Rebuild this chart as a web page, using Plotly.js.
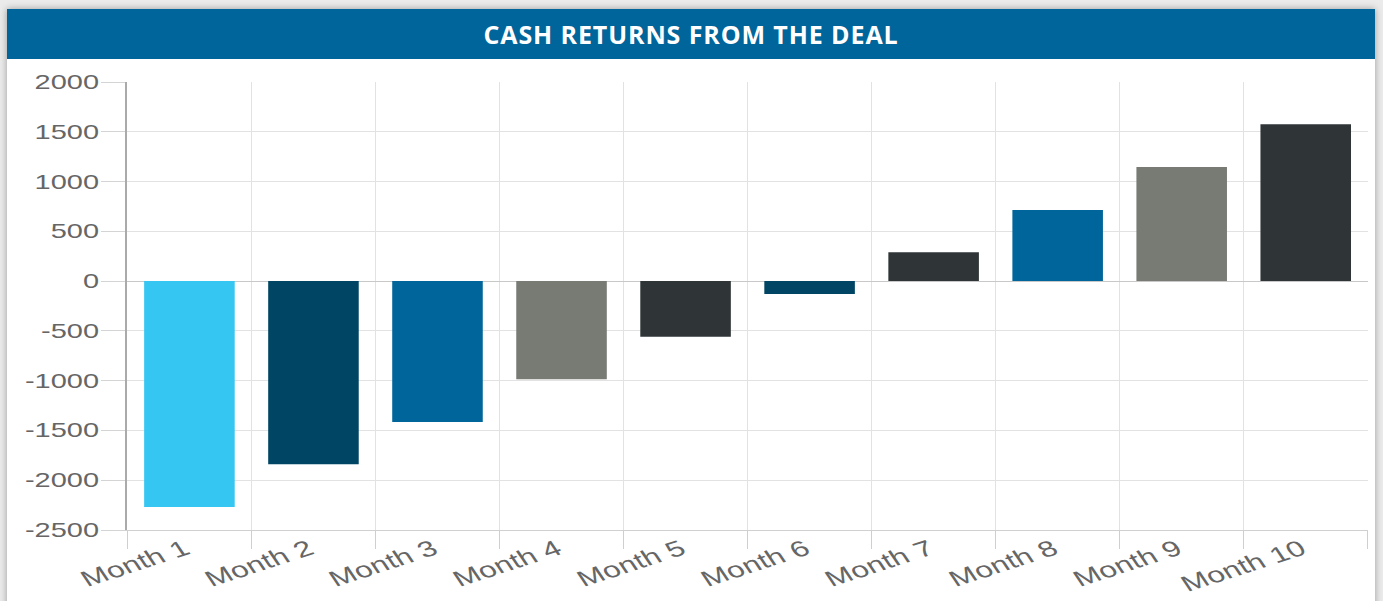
<!DOCTYPE html>
<html><head><meta charset="utf-8">
<script src="https://cdn.plot.ly/plotly-3.0.1.min.js"></script>
<style>
html,body{margin:0;padding:0;background:#ebebeb;width:1383px;height:601px;overflow:hidden;}
#card{position:absolute;left:7px;top:9px;width:1368px;height:640px;background:#fff;box-shadow:0 0 7px rgba(0,0,0,0.35);overflow:hidden;}
#head{height:50px;background:#00659b;color:#fff;font-family:'Open Sans',sans-serif;font-weight:700;font-size:25px;letter-spacing:0.9px;text-align:center;line-height:50px;}
#chart{position:absolute;left:0;top:50px;width:943px;height:542px;transform-origin:0 0;}
</style></head>
<body>
<div id="card"><div id="head">CASH RETURNS FROM THE DEAL</div><div id="chart"></div></div>
<script>
const chartTitle = "CASH RETURNS FROM THE DEAL";
const months = ["Month 1","Month 2","Month 3","Month 4","Month 5","Month 6","Month 7","Month 8","Month 9","Month 10"];
const cashReturns = [-2270, -1840, -1415, -985, -560, -130, 290, 715, 1145, 1575];
const barColors = ["#35c6f2","#004664","#00659b","#777b74","#2f3537","#004664","#2f3537","#00659b","#777b74","#2f3537"];
const yTickValues = [-2500,-2000,-1500,-1000,-500,0,500,1000,1500,2000];

document.getElementById('head').textContent = chartTitle;
const W = 943, scale = 1368 / W;
document.getElementById('chart').style.transform = 'scaleX(' + scale + ')';

const trace = {
  type: 'bar', x: months, y: cashReturns,
  marker: {color: barColors, line: {width: 0}},
  hoverinfo: 'x+y'
};
const layout = {
  width: W, height: 542,
  margin: {l: 83, r: 5, t: 23, b: 71, pad: 0},
  paper_bgcolor: '#fff', plot_bgcolor: '#fff',
  bargap: 0.27, showlegend: false,
  font: {family: 'Liberation Sans, Arial, sans-serif', color: '#666', size: 20},
  xaxis: {
    type: 'category', tickson: 'boundaries', ticks: 'outside', ticklen: 18, tickcolor: '#cfcfcf', tickwidth: 1,
    showgrid: true, gridcolor: '#e2e2e2', gridwidth: 1,
    showline: true, linecolor: '#d0d0d0', linewidth: 1,
    tickangle: -25, tickfont: {size: 22, color: '#666'}, automargin: false,
    ticklabelstandoff: -3, ticklabelshift: -3
  },
  yaxis: {
    range: [-2500, 2000], tickvals: yTickValues, ticktext: yTickValues.map(String),
    ticks: 'outside', ticklen: 17, tickcolor: '#d4d4d4', tickwidth: 1,
    showgrid: true, gridcolor: '#e2e2e2', gridwidth: 1,
    zeroline: true, zerolinecolor: '#c8c8c8', zerolinewidth: 1,
    showline: true, linecolor: '#aaa', linewidth: 1.5,
    tickfont: {size: 20, color: '#666'}, automargin: false,
    ticklabelstandoff: -3
  }
};
Plotly.newPlot('chart', [trace], layout, {displayModeBar: false, staticPlot: true});
</script>
</body></html>
